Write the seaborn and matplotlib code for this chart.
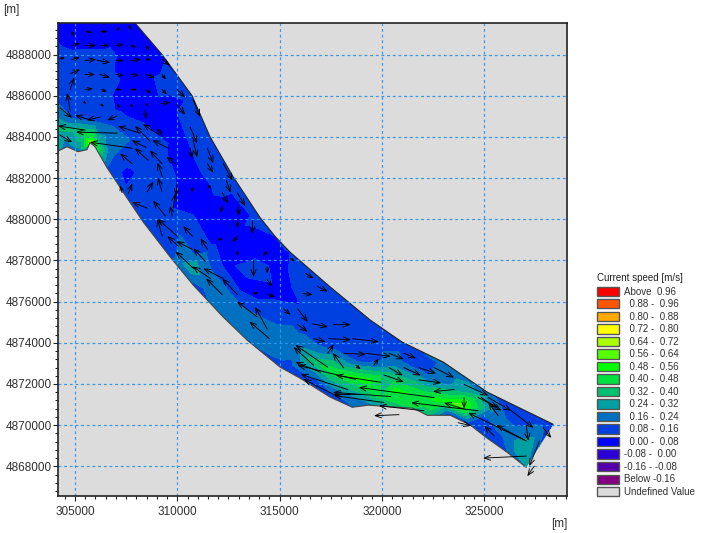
import numpy as np
import matplotlib
matplotlib.use('Agg')
import matplotlib.pyplot as plt
import matplotlib.tri as mtri
from matplotlib.colors import ListedColormap, BoundaryNorm
from matplotlib.patches import Patch, Polygon
from matplotlib.ticker import MultipleLocator
import seaborn as sns

sns.set_style('white')
plt.rcParams['font.family'] = ['Liberation Sans', 'DejaVu Sans']

# River banks [m] and the speed read at each bank point [m/s]
upper_x = [304000, 307700, 309250, 310720, 311600, 312730, 314050, 314780, 315510, 317470, 319430, 320990, 323000, 325150, 328370]
upper_y = [4889800, 4889800, 4888000, 4886000, 4884000, 4882060, 4880070, 4879160, 4878400, 4876710, 4875100, 4874030, 4873060, 4871600, 4870040]
upper_speed = [0.04, 0.04, 0.06, 0.10, 0.12, 0.12, 0.10, 0.08, 0.08, 0.10, 0.10, 0.14, 0.18, 0.20, 0.06]

lower_x = [327050, 326120, 325150, 324320, 323340, 322210, 321530, 319330, 318550, 317470, 316000, 315020, 313410, 312240, 310770, 309650, 308330, 307540, 306570, 305980, 305730, 305590, 305150, 304610, 304000]
lower_y = [4867950, 4868680, 4869360, 4870000, 4870480, 4870480, 4870820, 4870970, 4870870, 4871360, 4872280, 4872820, 4874130, 4875250, 4876810, 4878170, 4879870, 4881040, 4882500, 4883520, 4883720, 4883380, 4883280, 4883520, 4883230]
lower_speed = [0.25, 0.16, 0.08, 0.08, 0.10, 0.35, 0.40, 0.20, 0.15, 0.08, 0.08, 0.10, 0.18, 0.18, 0.14, 0.14, 0.10, 0.10, 0.16, 0.50, 0.60, 0.20, 0.20, 0.20, 0.30]

# Speeds read inside the channel
sample_x = [304755, 306710, 304000, 305000, 306220, 306710, 307690, 308180, 306220, 305000, 304000, 304000, 304000,
            305000, 305000, 305490, 305830, 306220, 306710, 305980, 306710, 307690, 308670, 306960, 307450, 307450,
            308670, 309650, 309550, 308910, 310380, 310870, 310130, 311620, 310870, 308910, 308180, 309890, 309160,
            312090, 311110, 312580, 310130, 309400, 312090, 313310, 310380, 311110, 310620, 312340, 313800, 313800,
            313070, 314780, 315270, 316740, 315020, 312340, 313310, 314290, 315270, 314540, 316000, 317470, 316490,
            318200, 318940, 317710, 316000, 316490, 314540, 315510, 317470, 319180, 318940, 320650, 321870, 320530,
            320650, 321870, 323830, 322850, 319900, 318200, 316980, 322360, 324070, 324320, 325290, 324800, 325780,
            326520, 327250, 325780, 326860, 326270, 327740, 325440]
sample_y = [4888970, 4888970, 4887757, 4887270, 4887510, 4888000, 4887757, 4887030, 4886540, 4886050, 4885810, 4885080, 4884450,
            4884930, 4884350, 4884110, 4883770, 4883720, 4883380, 4884740, 4884350, 4883860, 4883380, 4882650, 4882160, 4885570,
            4885080, 4885320, 4886780, 4887270, 4885080, 4883860, 4883860, 4882400, 4881920, 4882400, 4881430, 4881430, 4880460,
            4881430, 4880700, 4880460, 4879240, 4879000, 4879000, 4879730, 4878030, 4877300, 4877680, 4877780, 4877640, 4878510,
            4876810, 4877780, 4878510, 4877050, 4876560, 4876320, 4875100, 4874370, 4874130, 4875600, 4875840, 4876080, 4874860,
            4875100, 4874370, 4873890, 4873890, 4873160, 4873650, 4872900, 4872670, 4872180, 4873160, 4873160, 4872920, 4872580,
            4871700, 4871460, 4870970, 4871210, 4871320, 4871600, 4871940, 4872280, 4871700, 4872430, 4870820, 4870240, 4870970,
            4870730, 4870480, 4870000, 4868780, 4869510, 4869750, 4871940]
sample_speed = [0.04, 0.04, 0.12, 0.13, 0.12, 0.10, 0.04, 0.04, 0.12, 0.12, 0.16, 0.24, 0.34,
                0.14, 0.34, 0.42, 0.58, 0.30, 0.20, 0.16, 0.18, 0.16, 0.14, 0.12, 0.06, 0.04,
                0.04, 0.04, 0.12, 0.05, 0.12, 0.12, 0.04, 0.12, 0.04, 0.12, 0.12, 0.08, 0.10,
                0.10, 0.04, 0.04, 0.16, 0.10, 0.04, 0.08, 0.20, 0.24, 0.30, 0.06, 0.12, 0.04,
                0.05, 0.06, 0.08, 0.12, 0.06, 0.20, 0.22, 0.24, 0.22, 0.10, 0.08, 0.08, 0.10,
                0.08, 0.12, 0.10, 0.22, 0.34, 0.20, 0.14, 0.45, 0.52, 0.12, 0.18, 0.10, 0.30,
                0.50, 0.46, 0.60, 0.50, 0.40, 0.25, 0.12, 0.18, 0.28, 0.20, 0.25, 0.10, 0.16,
                0.10, 0.10, 0.20, 0.32, 0.20, 0.20, 0.10]

# Current vectors: tail position and length [m]
arrow_x = [304850, 305540, 306270, 307050, 307640, 304850, 305490, 306270, 307000, 307740, 308470,
           304270, 304850, 305490, 306080, 307000, 307740, 308470, 309250,
           304760, 305490, 306220, 307000, 307740, 308470, 309250,
           305490, 306270, 307000, 307740, 308470, 309250, 309990,
           305440, 306270, 307060, 307740, 308470, 309210, 309990, 310770,
           304760, 304760, 304270, 305740, 306220, 307060, 308430,
           307060, 307790, 305490, 304270, 308180, 308670, 309060, 308470, 309250, 308570, 307790, 309560, 309300, 309900,
           310630, 311470, 310770, 310630, 311470, 312250, 312400,
           312190, 312930, 312990, 312940, 313670, 312200, 311620, 310730, 309990, 309800, 309750, 309250, 309270,
           308530, 307600, 308530, 307300, 309410, 309260, 309990, 310730, 311470, 310050, 310730, 311370, 310790,
           312250, 311620, 312190, 312930, 313900, 314390, 314500, 315880, 315190, 316620, 316130, 313720, 314390, 314390,
           313720, 314390, 314390, 312940, 312000, 312940, 315540, 316270, 316860,
           317630, 315880, 316660, 317400, 318570, 318130, 319210, 320340, 321070, 318130, 317350, 319600, 318720,
           320340, 320090, 321070, 321810, 322540, 321810, 323520, 324010, 324700, 326320, 327050, 326950, 325680,
           327050, 327880, 327690, 327440, 327050,
           322540, 320440, 319950, 320090, 324700, 324110, 322050, 320830, 318720, 318330, 317640, 317350, 324010, 324850,
           325190, 316660, 317000, 318960, 323720, 325480]
arrow_y = [4889120, 4889120, 4889120, 4889170, 4889410, 4888440, 4888440, 4888440, 4888440, 4888440, 4888440,
           4887800, 4887760, 4887710, 4887710, 4887710, 4887710, 4887760, 4887760,
           4887070, 4887030, 4887030, 4887030, 4887030, 4887030, 4887030,
           4886300, 4886300, 4886300, 4886300, 4886300, 4886300, 4886300,
           4885700, 4885570, 4885570, 4885570, 4885620, 4885620, 4885570, 4885800,
           4886300, 4885300, 4885410, 4884820, 4884960, 4885010, 4885300,
           4884180, 4883450, 4884330, 4884080, 4884180, 4883790, 4884130, 4883490, 4882700, 4882860, 4882700, 4883450, 4883980, 4882700,
           4884470, 4883440, 4883840, 4883440, 4882700, 4882700, 4881880,
           4881300, 4881280, 4880650, 4879960, 4879920, 4880650, 4881500, 4881540, 4881710, 4880560, 4880160, 4881330, 4882060,
           4881330, 4881240, 4880540, 4881290, 4880160, 4879180, 4879180, 4879180, 4878540, 4878690, 4878540, 4877950, 4877610,
           4877120, 4877120, 4876340, 4876340, 4875260, 4874670, 4874200, 4875650, 4875650, 4874920, 4876390, 4876390, 4876340, 4877070,
           4878020, 4877710, 4878450, 4878450, 4879000, 4879180, 4878100, 4877370, 4876730,
           4874880, 4874880, 4874200, 4874200, 4874200, 4873490, 4873490, 4873490, 4873490, 4872780, 4873490, 4872900, 4872910,
           4872800, 4872440, 4872800, 4872800, 4872800, 4872200, 4871730, 4871980, 4871340, 4870700, 4869230, 4869280, 4870460,
           4869970, 4869870, 4869230, 4868010, 4868500,
           4871340, 4871390, 4872080, 4871100, 4870700, 4870750, 4870700, 4870510, 4872220, 4871730, 4871490, 4872810, 4871340, 4871340,
           4871340, 4872910, 4872570, 4871490, 4870120, 4869480]
arrow_u = [100, 290, 340, 150, 100, 390, 540, 390, 390, 240, 150,
           240, 390, 540, 640, 390, 490, 240, 390,
           490, 490, 490, 390, 390, 440, 200,
           390, 290, 290, 290, 240, 240, 390,
           100, 150, 150, 100, 100, 440, 390, 340,
           200, -150, 590, -740, -640, -490, 50,
           -2010, -2060, -1320, 590, -1080, -740, -740, -690, -590, -640, -590, -780, -290, -440,
           340, 290, 200, 100, 290, 440, 200,
           290, 390, 0, 0, 0, -100, -150, 0, -50, 100, -100, -200, -240,
           290, 200, -740, -100, -590, -240, -930, -440, -340, -540, -780, -590, -880,
           -980, -880, -780, -730, -980, -590, -980, 490, 340, 740, 490, 240, 390, 240,
           0, 0, -200, 0, 240, -240, 200, 390, 490,
           830, 490, 590, 1080, 1270, 1080, 1220, 730, 590, -540, 290, 240, 240,
           680, 980, 830, 830, 980, 1080, -1030, 1180, 980, 1080, -1470, -2740, -490,
           100, 390, -490, -340, -2110,
           -3670, -2840, -2210, -2450, -3280, -1080, -2200, -1220, -2840, -2300, -1470, -1570, 0, 980,
           1130, -980, -1220, -1320, 640, -490]
arrow_v = [-240, -50, 0, 150, -240, 100, 0, 0, 50, -100, -240,
           50, 100, 50, -100, 0, 50, 0, -290,
           200, 0, -150, -50, -50, -150, -240,
           50, -100, 0, 0, -200, -240, -390,
           -100, -100, -150, -150, -150, 50, -490, -830,
           590, 830, -490, 240, -150, -200, -440,
           50, 290, 200, -340, 340, 740, 490, 340, 640, 590, 490, 390, 440, 340,
           -780, -730, -830, -490, -440, -830, -590,
           -540, -640, -490, -390, -640, -340, 200, -240, -590, 690, 490, 690, 690,
           490, 490, 290, 340, 740, 830, 830, 490, 540, 490, 390, 640, 830,
           490, 590, 780, 780, 740, 1080, 830, -640, -290, -150, -50, 50, -100, -340,
           -830, -340, -240, -240, 50, -290, -150, -240, -240,
           0, -340, -150, -50, -150, -50, -150, -290, -240, 730, 440, 340, -200,
           -390, -340, -390, -290, -490, -150, -100, -540, -490, -830, 780, 1320, 640,
           -730, -490, -1220, -490, -100,
           490, 200, 340, 340, 390, 340, 240, -50, 690, 740, 740, 1080, -540, -640,
           -640, 880, 490, 0, -150, 490]

# Legend classes
level_edges = [-9, -0.16, -0.08, 0.0, 0.08, 0.16, 0.24, 0.32, 0.40, 0.48, 0.56, 0.64, 0.72, 0.80, 0.88, 0.96, 9]
level_colors = ['#800080', '#5500AA', '#2A00D5', '#0000FF', '#0040E0', '#0070C0', '#00A0A0', '#00C070',
                '#00E040', '#00FF00', '#55FF00', '#AAFF00', '#FFFF00', '#FFAA00', '#FF5500', '#FF0000']
level_labels = ['Below -0.16', '-0.16 - -0.08', '-0.08 -  0.00', '  0.00 -  0.08', '  0.08 -  0.16', '  0.16 -  0.24',
                '  0.24 -  0.32', '  0.32 -  0.40', '  0.40 -  0.48', '  0.48 -  0.56', '  0.56 -  0.64', '  0.64 -  0.72',
                '  0.72 -  0.80', '  0.80 -  0.88', '  0.88 -  0.96', 'Above  0.96']
undefined_color = '#DCDCDC'

x_ticks = [305000, 310000, 315000, 320000, 325000]
y_ticks = [4868000, 4870000, 4872000, 4874000, 4876000, 4878000, 4880000, 4882000, 4884000, 4886000, 4888000]

palette = sns.color_palette(level_colors)
cmap = ListedColormap(palette)
norm = BoundaryNorm(level_edges, cmap.N)

fig = plt.figure(figsize=(7.05, 5.33), dpi=100)
ax = fig.add_axes([58 / 705, 37 / 533, 509 / 705, 473 / 533])
ax.set_facecolor(undefined_color)
ax.set_xlim(304170, 329040)
ax.set_ylim(4866560, 4889530)

# Speed field, clipped to the river outline
all_x = np.array(upper_x + lower_x + sample_x, dtype=float)
all_y = np.array(upper_y + lower_y + sample_y, dtype=float)
all_speed = np.array(upper_speed + lower_speed + sample_speed)
tri = mtri.Triangulation(all_x - 304000, all_y - 4866000)
tri.x = all_x
tri.y = all_y
field = ax.tricontourf(tri, all_speed, levels=level_edges, cmap=cmap, norm=norm, zorder=1)
outline = Polygon(np.column_stack([upper_x + lower_x, upper_y + lower_y]), closed=True, transform=ax.transData)
field.set_clip_path(outline)

# Bank lines
sns.lineplot(x=upper_x[1:], y=upper_y[1:], sort=False, estimator=None, color='#222222', lw=0.8, zorder=2, ax=ax)
sns.lineplot(x=lower_x, y=lower_y, sort=False, estimator=None, color='#444444', lw=0.8, zorder=2, ax=ax)

# Grid
ax.set_xticks(x_ticks)
ax.set_yticks(y_ticks)
ax.xaxis.set_minor_locator(MultipleLocator(500))
ax.yaxis.set_minor_locator(MultipleLocator(400))
ax.grid(True, which='major', color='#3396F5', ls=(0, (2.4, 2.4)), lw=0.85)
ax.set_axisbelow(False)
ax.ticklabel_format(useOffset=False, style='plain')
ax.tick_params(axis='both', which='major', direction='out', length=3.6, width=0.8, color='#222222',
               labelsize=8.5, labelcolor='#303030', bottom=True, left=True, pad=1)
ax.tick_params(axis='both', which='minor', direction='out', length=2.2, width=0.8, color='#222222', bottom=True, left=True)
ax.tick_params(axis='x', which='major', pad=3.5)
for spine in ax.spines.values():
    spine.set_color('#222222')
    spine.set_linewidth(1.2)
    spine.set_zorder(6)

# Current vectors, head size follows the length
for x, y, u, v in zip(arrow_x, arrow_y, arrow_u, arrow_v):
    size = float(np.clip(np.hypot(u, v) / 49 * 0.75, 2.5, 9))
    ax.annotate('', xy=(x + u, y + v), xytext=(x, y), zorder=4,
                arrowprops=dict(arrowstyle='->,head_length=0.5,head_width=0.2', color='black', lw=0.65,
                                shrinkA=0, shrinkB=0, mutation_scale=size))

fig.text(3 / 705, 1 - 10 / 533, '[m]', fontsize=8.5, color='#303030', va='center')
fig.text(551 / 705, 1 - 524 / 533, '[m]', fontsize=8.5, color='#303030', va='center')

# Legend
handles = [Patch(facecolor=c, edgecolor='#555555', lw=1.0) for c in palette[::-1]]
handles.append(Patch(facecolor=undefined_color, edgecolor='#555555', lw=1.0))
labels = level_labels[::-1] + ['Undefined Value']
leg = fig.legend(handles, labels, title='Current speed [m/s]', loc='upper left', bbox_to_anchor=(595 / 705, 1 - 271 / 533),
                 frameon=False, fontsize=7, title_fontsize=7, handlelength=2.25, handleheight=1.1,
                 labelspacing=0.26, handletextpad=0.5, borderpad=0.2, borderaxespad=0, alignment='left')
leg._legend_box.sep = 2.6
for text in leg.get_texts():
    text.set_color('#303030')
leg.get_title().set_color('#202020')

fig.savefig('out.png', dpi=100)
